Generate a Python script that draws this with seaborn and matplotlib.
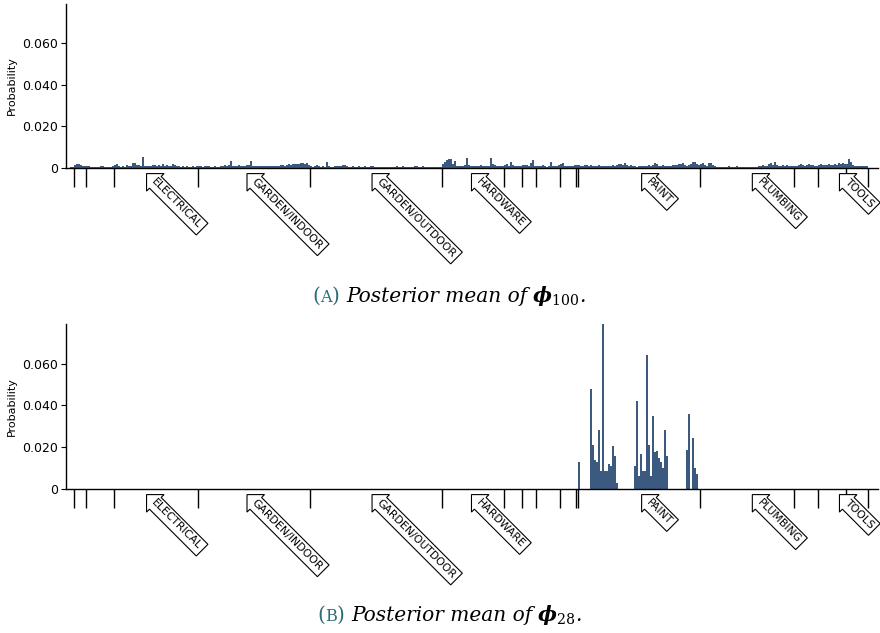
import numpy as np
import pandas as pd
import matplotlib
matplotlib.use("Agg")
import matplotlib.pyplot as plt
import seaborn as sns

# Department names along the product axis ("" = unlabelled department)
dept_labels = ["", "", "", "ELECTRICAL", "GARDEN/INDOOR", "GARDEN/OUTDOOR",
               "HARDWARE", "", "", "", "", "", "PAINT", "PLUMBING", "",
               "TOOLS", ""]

# Posterior mean of phi_100 per product, grouped by department (units of 1e-4)
phi100_d00 = [5, 4]
phi100_d01 = [16, 20, 19, 14, 10, 11]
phi100_d02 = [8, 9, 7, 6, 5, 5, 7, 8, 8, 7, 6, 5, 7, 10]
phi100_electrical = [15, 17, 8, 7, 8, 6, 13, 10, 12, 24, 26, 15, 13, 11,
                     53, 11, 10, 9, 11, 15, 13, 10, 16, 11, 17, 12, 13, 9,
                     11, 18, 13, 10, 8, 7, 8, 6, 8, 7, 6, 8, 7, 8]
phi100_garden_indoor = [9, 8, 7, 8, 9, 8, 7, 6, 8, 7, 6, 8, 9, 13, 11,
                        13, 32, 8, 8, 9, 13, 11, 10, 11, 13, 15, 36, 12, 10,
                        9, 8, 8, 9, 8, 8, 10, 8, 11, 10, 12, 9, 13, 15, 11,
                        16, 18, 14, 19, 17, 21, 18, 23, 26, 20, 24, 13]
phi100_garden_outdoor = [8, 7, 12, 14, 8, 6, 8, 7, 30, 8, 7, 6, 8, 8, 9,
                         11, 16, 13, 8, 7, 7, 8, 6, 7, 8, 7, 6, 9, 7, 6,
                         8, 11, 7, 5, 4, 4, 5, 4, 4, 5, 4, 4, 4, 8, 7, 6,
                         9, 7, 6, 5, 6, 7, 8, 9, 7, 6, 8, 5, 6, 7, 5, 6,
                         5, 5, 6, 7]
phi100_hardware = [18, 30, 40, 45, 42, 20, 32, 12, 10, 11, 12, 13, 46, 14,
                   12, 10, 12, 11, 9, 13, 10, 8, 12, 10, 48, 18, 14, 10,
                   12, 9, 12]
phi100_d07 = [14, 20, 12, 30, 14, 10, 8, 9, 12]
phi100_d08 = [14, 14, 16, 12, 22, 38, 10]
phi100_d09 = [8, 12, 10, 14, 8, 7, 9, 30, 10, 8, 12, 14]
phi100_d10 = [18, 22, 12, 10, 8, 11, 12, 14]
phi100_d11 = [13]
phi100_paint = [15, 12, 10, 14, 13, 12, 15, 12, 10, 11, 14, 12, 10, 12, 8,
                10, 12, 14, 12, 16, 20, 18, 14, 22, 16, 12, 15, 10, 8, 7,
                9, 12, 10, 8, 12, 14, 10, 16, 22, 18, 10, 12, 14, 10, 8,
                12, 10, 14, 16, 14, 20, 18, 24, 14, 12, 14, 18, 28, 30,
                20, 16]
phi100_plumbing = [18, 24, 14, 12, 22, 26, 14, 10, 7, 6, 5, 4, 5, 7, 9, 6,
                   5, 4, 11, 4, 6, 5, 4, 7, 5, 4, 4, 5, 6, 9, 10, 14, 10,
                   12, 18, 24, 14, 28, 16, 12, 10, 14, 12, 16, 10, 8, 12]
phi100_d14 = [10, 12, 14, 20, 16, 12, 14, 18, 16, 14, 12, 10]
phi100_tools = [14, 18, 16, 14, 16, 20, 16, 14, 18, 16, 26, 20, 22, 18]
phi100_d16 = [18, 42, 30, 14, 10, 12, 8, 10, 12, 9, 8]

# Posterior mean of phi_28: non-zero products only
phi28_items = [254, 260, 261, 262, 263, 264, 265, 266, 267, 268, 269, 270,
               271, 272, 273, 282, 283, 284, 285, 286, 287, 288, 289, 290,
               291, 292, 293, 294, 295, 296, 297, 298, 308, 309, 311, 312,
               313]
phi28_values = [0.0127, 0.048, 0.021, 0.014, 0.013, 0.0284, 0.0084, 0.079,
                0.0088, 0.0088, 0.012, 0.011, 0.0204, 0.016, 0.003, 0.011,
                0.042, 0.006, 0.0167, 0.0084, 0.0084, 0.064, 0.021, 0.0063,
                0.035, 0.0177, 0.018, 0.015, 0.0127, 0.010, 0.0284, 0.016,
                0.0185, 0.0357, 0.0244, 0.010, 0.0072]

ytick_values = [0, 0.02, 0.04, 0.06]
ytick_labels = ["0", "0.020", "0.040", "0.060"]

phi100_parts = [phi100_d00, phi100_d01, phi100_d02, phi100_electrical,
                phi100_garden_indoor, phi100_garden_outdoor, phi100_hardware,
                phi100_d07, phi100_d08, phi100_d09, phi100_d10, phi100_d11,
                phi100_paint, phi100_plumbing, phi100_d14, phi100_tools,
                phi100_d16]
dept_sizes = np.array([len(p) for p in phi100_parts])
dept_ends = np.cumsum(dept_sizes)
dept_starts = dept_ends - dept_sizes

phi100 = np.concatenate(phi100_parts) * 1e-4
n_items = len(phi100)
items = np.arange(n_items)
phi28 = np.zeros(n_items)
phi28[phi28_items] = phi28_values

sns.set_style("ticks")
plt.rcParams["font.family"] = ["DejaVu Sans"]
plt.rcParams["text.color"] = "black"
plt.rcParams["axes.labelcolor"] = "black"
plt.rcParams["xtick.color"] = "black"
plt.rcParams["ytick.color"] = "black"
plt.rcParams["mathtext.fontset"] = "custom"
plt.rcParams["mathtext.rm"] = "DejaVu Serif"
plt.rcParams["mathtext.it"] = "DejaVu Serif:italic"
plt.rcParams["mathtext.bf"] = "DejaVu Serif:bold:italic"

BAR = "#3c5a7f"
TEAL = "#2a6d76"
W, H = 880, 633
fig = plt.figure(figsize=(W / 100, H / 100), dpi=100)

# department labels fan out slightly from the middle of the axis
LABEL_CENTER = 222.5
LABEL_SPREAD = 1.025


def px_axes(left, right, top, bottom):
    return fig.add_axes([left / W, 1 - bottom / H, (right - left) / W,
                         (bottom - top) / H])


def draw_panel(ax, values):
    df = pd.DataFrame({"item": items, "prob": values})
    sns.barplot(data=df, x="item", y="prob", native_scale=True, width=1.0,
                color=BAR, saturation=1, linewidth=0, errorbar=None, ax=ax)
    ax.set_xlim(-2.5, n_items + 4.5)
    ax.set_ylim(0, 0.079)
    ax.set_yticks(ytick_values)
    ax.set_yticklabels(ytick_labels, fontsize=9)
    ax.set_ylabel("Probability", fontsize=8, labelpad=4)
    ax.set_xlabel("")
    ax.set_xticks(dept_ends - 0.5)
    ax.set_xticklabels([])
    ax.tick_params(axis="x", length=13.7, width=1.0, color="black")
    ax.tick_params(axis="y", length=3.5, width=0.8, color="black", pad=2)
    sns.despine(ax=ax)
    for side in ("left", "bottom"):
        ax.spines[side].set_color("black")
        ax.spines[side].set_linewidth(1.0)
    for name, s, e in zip(dept_labels, dept_starts, dept_ends):
        if not name:
            continue
        mid = (s + e - 1) / 2
        pos = LABEL_CENTER + (mid - LABEL_CENTER) * LABEL_SPREAD
        ax.annotate(name, xy=(pos, 0), xycoords=("data", "axes fraction"),
                    xytext=(4.35, -8.7), textcoords="offset points",
                    rotation=-45, rotation_mode="anchor", ha="left",
                    va="center", fontsize=7.8, color="black",
                    annotation_clip=False,
                    bbox=dict(boxstyle="larrow,pad=0.3", fc="white",
                              ec="black", lw=0.8))


def draw_caption(center_px, baseline_px, tag, sub):
    renderer = fig.canvas.get_renderer()
    size = 14.5
    pieces = [
        ("(", dict(color=TEAL, family="DejaVu Serif", size=size), 0),
        (tag, dict(color=TEAL, family="DejaVu Serif", size=size * 0.8), 0),
        (")", dict(color=TEAL, family="DejaVu Serif", size=size), 6),
        ("Posterior mean of", dict(family="DejaVu Serif", style="italic",
                                   size=size, color="black"), 5),
        (r"$\mathbf{\phi}_{%s}$" % sub, dict(size=size, color="black"), 0),
        (".", dict(family="DejaVu Serif", style="italic", size=size,
                   color="black"), 0),
    ]
    texts, widths = [], []
    for s, kw, gap in pieces:
        t = fig.text(0, 1 - baseline_px / H, s, va="baseline", ha="left", **kw)
        widths.append(t.get_window_extent(renderer).width + gap)
        texts.append(t)
    x = center_px - sum(widths) / 2
    for t, w in zip(texts, widths):
        t.set_x(x / W)
        x += w


ax_a = px_axes(66, 878, 4, 168)
draw_panel(ax_a, phi100)
ax_b = px_axes(66, 878, 324, 489)
draw_panel(ax_b, phi28)

draw_caption(449, 302, "A", "100")
draw_caption(449.5, 621, "B", "28")

fig.savefig("out.png", dpi=100)
